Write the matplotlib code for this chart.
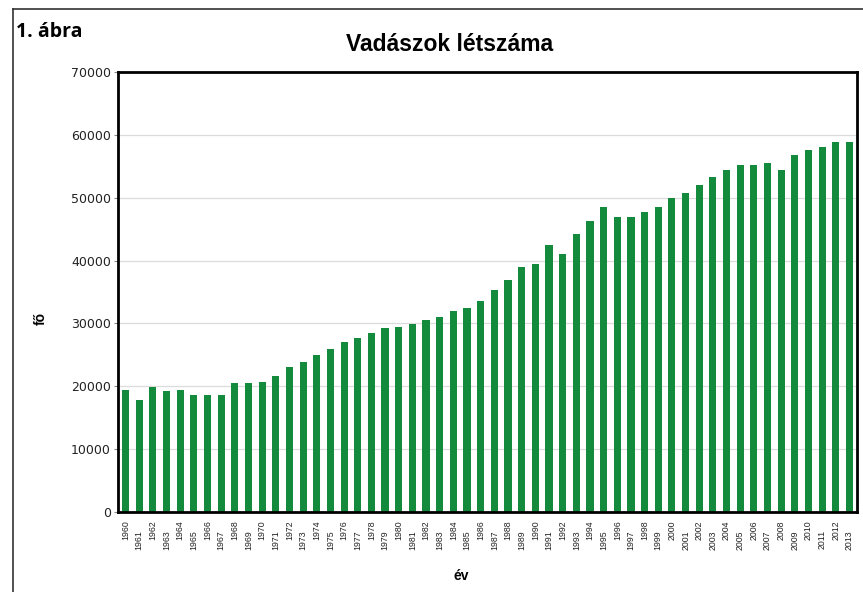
import numpy as np
import matplotlib.pyplot as plt
from matplotlib.lines import Line2D

years = list(range(1960, 2014))
hunters = [19400, 17800, 19900, 19250, 19400, 18600, 18600, 18600, 20550, 20600,
           20700, 21600, 23100, 23900, 24950, 26000, 27100, 27750, 28500, 29200,
           29450, 29850, 30600, 31050, 32000, 32500, 33500, 35300, 36900, 39000,
           39400, 42450, 41000, 44300, 46300, 48550, 46950, 46950, 47750, 48550,
           50000, 50750, 52000, 53300, 54350, 55150, 55150, 55450, 54350, 56750,
           57650, 58000, 58850, 58900]
y_ticks = [0, 10000, 20000, 30000, 40000, 50000, 60000, 70000]

plt.rcParams['font.family'] = ['Liberation Sans', 'DejaVu Sans']

fig = plt.figure(figsize=(8.63, 5.92), dpi=100)
ax = fig.add_axes([0.1367, 0.1351, 0.8564, 0.7433])

x = np.arange(len(years))
ax.bar(x, hunters, width=0.52, color='#138a3c', zorder=2)

ax.set_xlim(-0.55, len(years) - 0.45)
ax.set_ylim(0, 70000)
ax.set_yticks(y_ticks)
ax.set_yticklabels([str(v) for v in y_ticks], fontsize=9, color='#222222',
                   family=['DejaVu Sans'])
ax.grid(axis='y', color='#dcdcdc', linewidth=0.9, zorder=0)

# staggered year labels: even years on major ticks, odd years on minor ticks
even = [i for i in x if years[i] % 2 == 0]
odd = [i for i in x if years[i] % 2 == 1]
ax.set_xticks(even)
ax.set_xticklabels([str(years[i]) for i in even], rotation=90, fontsize=6.3, color='#222222')
ax.set_xticks(odd, minor=True)
ax.set_xticklabels([str(years[i]) for i in odd], minor=True, rotation=90, fontsize=6.3, color='#222222')
ax.tick_params(axis='x', which='major', length=0, pad=6)
ax.tick_params(axis='x', which='minor', length=0, pad=13)
ax.tick_params(axis='y', length=3, color='#888888', pad=2)

for s in ax.spines.values():
    s.set_linewidth(2)
    s.set_color('black')

ax.set_xlabel('év', fontsize=10, fontweight='bold')
ax.xaxis.set_label_coords(0.465, -0.13)
ax.set_ylabel('fő', fontsize=10, fontweight='bold')
ax.yaxis.set_label_coords(-0.095, 0.44)

fig.text(0.521, 0.924, 'Vadászok létszáma', fontsize=16.5, fontweight='bold',
         ha='center', va='center')
fig.text(0.019, 0.946, '1. ábra', fontsize=14, fontweight='bold', va='center',
         family=['Open Sans', 'DejaVu Sans'])

# page frame: top and left edge only
fig.add_artist(Line2D([0.015, 1.0], [0.985, 0.985], transform=fig.transFigure,
                      color='#333333', linewidth=1.2))
fig.add_artist(Line2D([0.015, 0.015], [0.0, 0.985], transform=fig.transFigure,
                      color='#333333', linewidth=1.2))

fig.savefig('out.png', dpi=100)
